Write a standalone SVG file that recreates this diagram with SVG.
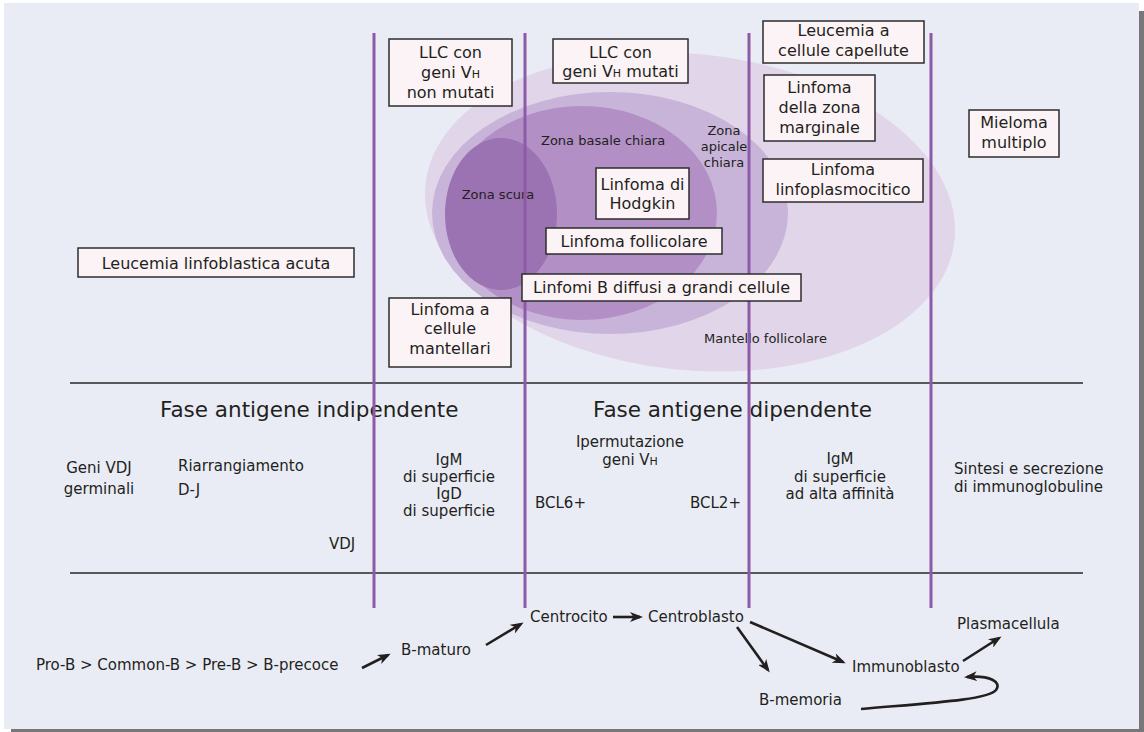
<svg xmlns="http://www.w3.org/2000/svg" width="1144" height="732" viewBox="0 0 1144 732">
<style>
text{font-family:"DejaVu Sans",Verdana,sans-serif;fill:#231f20}
.box{fill:#fcf3f6;stroke:#2d2d2d;stroke-width:1.5}
.bt{font-size:16px;text-anchor:middle}
.zt{font-size:13px}
.st{font-size:15px}
.ft{font-size:21.5px}
.vl{stroke:#8d5aa7;stroke-width:3}
.hl{stroke:#58585a;stroke-width:2}
.ar{fill:none;stroke:#231f20;stroke-width:2.6;marker-end:url(#ah)}
.sm{font-size:11px}
</style>
<defs>
<marker id="ah" viewBox="0 0 13 10" markerWidth="13" markerHeight="10" refX="10" refY="5" orient="auto" markerUnits="userSpaceOnUse">
<path d="M0,0 L13,5 L0,10 L3.5,5 z" fill="#231f20"/>
</marker>
</defs>
<rect x="11" y="11" width="1133" height="721" fill="#77777a"/>
<rect x="4" y="3" width="1135" height="726" fill="#eaecf5"/>
<g id="zones">
<ellipse cx="690" cy="212" rx="266" ry="158" fill="#e0d5e9" transform="rotate(6 690 212)"/>
<ellipse cx="610" cy="213" rx="178" ry="121" fill="#c9b4d9"/>
<ellipse cx="582" cy="213" rx="135" ry="107" fill="#b290c5"/>
<ellipse cx="501" cy="214" rx="56" ry="76" fill="#9b72b2"/>
<text class="zt" x="541" y="145">Zona basale chiara</text>
<text class="zt" text-anchor="middle" x="724" y="135">Zona</text>
<text class="zt" text-anchor="middle" x="724" y="151">apicale</text>
<text class="zt" text-anchor="middle" x="724" y="167">chiara</text>
<text class="zt" text-anchor="middle" x="498" y="199">Zona scura</text>
<text class="zt" x="704" y="343">Mantello follicolare</text>
</g>
<g id="phases">
<text class="ft" x="160" y="417">Fase antigene indipendente</text>
<text class="ft" x="593" y="417">Fase antigene dipendente</text>
<text class="st" text-anchor="middle" x="99" y="473">Geni VDJ</text>
<text class="st" text-anchor="middle" x="99" y="494">germinali</text>
<text class="st" x="178" y="471">Riarrangiamento</text>
<text class="st" x="178" y="495">D-J</text>
<text class="st" x="329" y="549">VDJ</text>
<text class="st" text-anchor="middle" x="449" y="465">IgM</text>
<text class="st" text-anchor="middle" x="449" y="482">di superficie</text>
<text class="st" text-anchor="middle" x="449" y="499">IgD</text>
<text class="st" text-anchor="middle" x="449" y="516">di superficie</text>
<text class="st" text-anchor="middle" x="630" y="447">Ipermutazione</text>
<text class="st" text-anchor="middle" x="630" y="465">geni V<tspan class="sm">H</tspan></text>
<text class="st" x="535" y="508">BCL6+</text>
<text class="st" x="690" y="508">BCL2+</text>
<text class="st" text-anchor="middle" x="840" y="464">IgM</text>
<text class="st" text-anchor="middle" x="840" y="482">di superficie</text>
<text class="st" text-anchor="middle" x="840" y="499">ad alta affinità</text>
<text class="st" x="954" y="474">Sintesi e secrezione</text>
<text class="st" x="954" y="492">di immunoglobuline</text>
</g>
<g id="grid">
<line class="hl" x1="70" y1="383" x2="1083" y2="383"/>
<line class="hl" x1="70" y1="573" x2="1083" y2="573"/>
<line class="vl" x1="374" y1="33" x2="374" y2="608"/>
<line class="vl" x1="525" y1="33" x2="525" y2="608"/>
<line class="vl" x1="749" y1="33" x2="749" y2="608"/>
<line class="vl" x1="931" y1="33" x2="931" y2="608"/>
</g>
<g id="n-llc-non">
<rect class="box" x="389" y="39" width="123" height="67"/>
<text class="bt" x="450.5" y="58">LLC con</text>
<text class="bt" x="450.5" y="78">geni V<tspan class="sm">H</tspan></text>
<text class="bt" x="450.5" y="98">non mutati</text>
</g>
<g id="n-llc-mut">
<rect class="box" x="553" y="39" width="135" height="44"/>
<text class="bt" x="620.5" y="58">LLC con</text>
<text class="bt" x="620.5" y="77">geni V<tspan class="sm">H</tspan> mutati</text>
</g>
<g id="n-capellute">
<rect class="box" x="763" y="21" width="161" height="42"/>
<text class="bt" x="843.5" y="36">Leucemia a</text>
<text class="bt" x="843.5" y="56">cellule capellute</text>
</g>
<g id="n-marginale">
<rect class="box" x="764" y="75" width="111" height="66"/>
<text class="bt" x="819.5" y="93">Linfoma</text>
<text class="bt" x="819.5" y="113">della zona</text>
<text class="bt" x="819.5" y="133">marginale</text>
</g>
<g id="n-linfoplasm">
<rect class="box" x="763" y="159" width="160" height="43"/>
<text class="bt" x="843" y="175">Linfoma</text>
<text class="bt" x="843" y="195">linfoplasmocitico</text>
</g>
<g id="n-mieloma">
<rect class="box" x="969" y="110" width="90" height="47"/>
<text class="bt" x="1014" y="128">Mieloma</text>
<text class="bt" x="1014" y="148">multiplo</text>
</g>
<g id="n-hodgkin">
<rect class="box" x="596" y="168" width="93" height="51"/>
<text class="bt" x="642.5" y="190">Linfoma di</text>
<text class="bt" x="642.5" y="209">Hodgkin</text>
</g>
<g id="n-follicolare">
<rect class="box" x="546" y="228" width="176" height="26"/>
<text class="bt" x="634" y="247">Linfoma follicolare</text>
</g>
<g id="n-diffusi">
<rect class="box" x="522" y="274" width="279" height="27"/>
<text class="bt" x="661.5" y="293">Linfomi B diffusi a grandi cellule</text>
</g>
<g id="n-mantellari">
<rect class="box" x="389" y="298" width="122" height="69"/>
<text class="bt" x="450" y="315">Linfoma a</text>
<text class="bt" x="450" y="334">cellule</text>
<text class="bt" x="450" y="354">mantellari</text>
</g>
<g id="n-lla">
<rect class="box" x="78" y="248" width="276" height="29"/>
<text class="bt" x="216" y="269">Leucemia linfoblastica acuta</text>
</g>
<g id="n-prob"><text class="st" x="36" y="670">Pro-B &gt; Common-B &gt; Pre-B &gt; B-precoce</text></g>
<g id="n-bmaturo"><text class="st" x="401" y="655">B-maturo</text></g>
<g id="n-centrocito"><text class="st" x="530" y="622">Centrocito</text></g>
<g id="n-centroblasto"><text class="st" x="648" y="622">Centroblasto</text></g>
<g id="n-immunoblasto"><text class="st" x="852" y="672">Immunoblasto</text></g>
<g id="n-plasmacellula"><text class="st" x="957" y="629">Plasmacellula</text></g>
<g id="n-bmemoria"><text class="st" x="759" y="705">B-memoria</text></g>
<g id="connectors">
<line class="ar" x1="362" y1="668" x2="388" y2="655"/>
<line class="ar" x1="486" y1="645" x2="521" y2="624"/>
<line class="ar" x1="613" y1="617" x2="640" y2="617"/>
<line class="ar" x1="737" y1="627" x2="768" y2="670"/>
<line class="ar" x1="750" y1="622" x2="843" y2="662"/>
<line class="ar" x1="963" y1="661" x2="999" y2="638"/>
<path class="ar" d="M861,709 C930,703 988,700 996,690 C1002,682 990,675 967,677"/>
</g>
</svg>
